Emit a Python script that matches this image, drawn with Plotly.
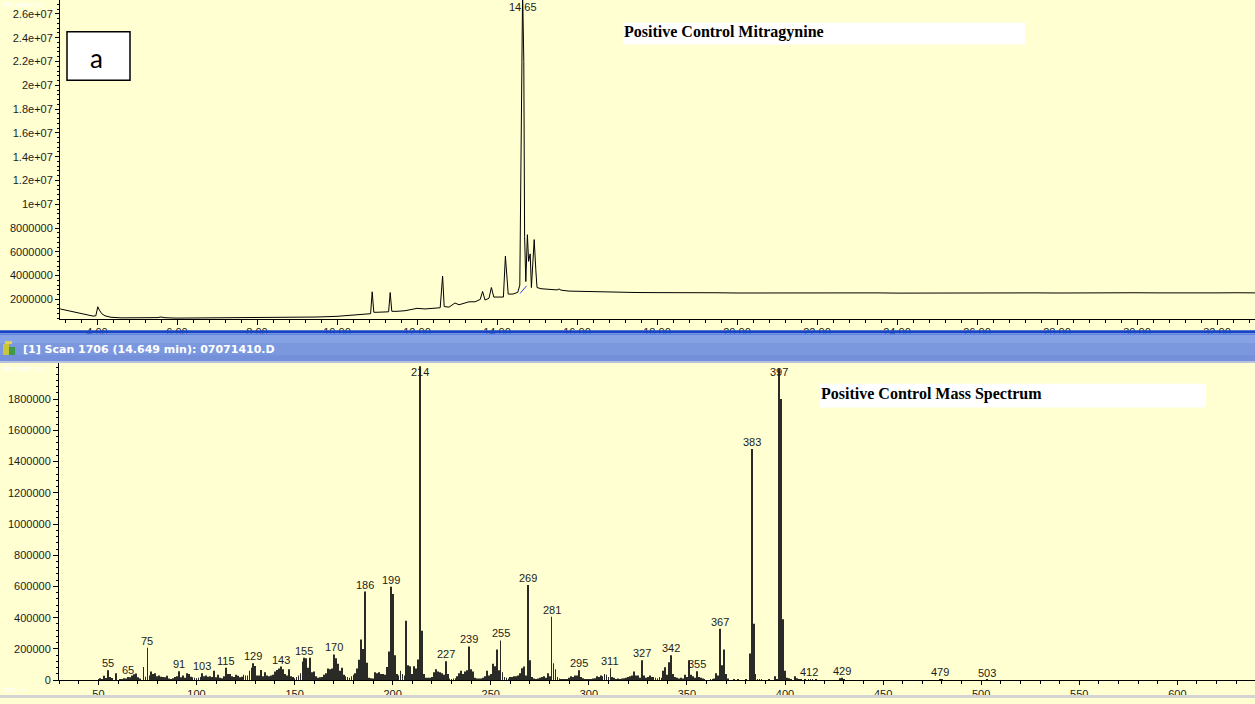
import plotly.graph_objects as go

W, H = 1255, 704

# ---------------- Total ion chromatogram (time in min, abundance) ----------------
tic_time = [
    3.08, 3.30, 3.50, 3.70, 3.90, 3.97, 4.02, 4.06, 4.12, 4.20, 4.35, 4.60, 5.00,
    5.50, 5.60, 5.70, 6.00, 6.50, 7.00, 7.50, 8.00, 8.50, 8.80, 9.00, 9.50, 10.00,
    10.30, 10.60, 10.84, 10.88, 10.92, 11.00, 11.20, 11.29, 11.33, 11.37, 11.50,
    11.70, 11.90, 12.00, 12.20, 12.40, 12.58, 12.64, 12.68, 12.80, 12.95, 13.05,
    13.20, 13.30, 13.45, 13.58, 13.64, 13.70, 13.80, 13.86, 13.92, 14.05, 14.16,
    14.21, 14.24, 14.28, 14.40, 14.52, 14.57, 14.60, 14.64, 14.67, 14.69, 14.72,
    14.76, 14.79, 14.83, 14.86, 14.90, 14.93, 14.97, 15.00, 15.10, 15.30, 15.50,
    15.55, 15.60, 15.80, 16.00, 16.30, 16.60, 16.80, 17.00, 17.50, 18.00, 18.50,
    19.00, 19.50, 20.00, 20.50, 21.00, 21.50, 22.00, 22.50, 23.00, 23.50, 24.00,
    24.50, 25.00, 25.50, 26.00, 26.50, 27.00, 27.50, 28.00, 28.50, 29.00, 29.50,
    30.00, 30.50, 31.00, 31.50, 32.00, 32.50, 32.95,
]
tic_abund = [
    1.20e6, 1.05e6, 0.92e6, 0.78e6, 0.60e6, 0.62e6, 1.38e6, 1.10e6, 0.80e6, 0.62e6,
    0.50e6, 0.45e6, 0.44e6, 0.47e6, 0.52e6, 0.46e6, 0.43e6, 0.44e6, 0.42e6, 0.43e6,
    0.43e6, 0.45e6, 0.50e6, 0.48e6, 0.52e6, 0.58e6, 0.65e6, 0.75e6, 0.80e6, 2.64e6,
    0.92e6, 0.92e6, 0.95e6, 0.96e6, 2.58e6, 1.00e6, 1.00e6, 1.05e6, 1.18e6, 1.25e6,
    1.20e6, 1.22e6, 1.30e6, 3.97e6, 1.40e6, 1.35e6, 1.70e6, 1.55e6, 1.72e6, 1.80e6,
    1.80e6, 2.00e6, 2.67e6, 1.95e6, 2.10e6, 3.00e6, 2.20e6, 2.20e6, 2.20e6, 5.64e6,
    4.30e6, 2.45e6, 2.45e6, 2.60e6, 3.20e6, 14.4e6, 28.0e6, 22.0e6, 7.30e6, 3.50e6,
    7.44e6, 5.20e6, 5.83e6, 3.00e6, 6.06e6, 7.03e6, 4.50e6, 3.00e6, 2.90e6, 2.85e6,
    2.80e6, 2.88e6, 2.78e6, 2.70e6, 2.68e6, 2.65e6, 2.64e6, 2.60e6, 2.62e6, 2.58e6,
    2.57e6, 2.58e6, 2.55e6, 2.56e6, 2.54e6, 2.55e6, 2.53e6, 2.54e6, 2.55e6, 2.53e6,
    2.54e6, 2.55e6, 2.53e6, 2.54e6, 2.55e6, 2.56e6, 2.54e6, 2.55e6, 2.56e6, 2.55e6,
    2.54e6, 2.56e6, 2.55e6, 2.57e6, 2.56e6, 2.55e6, 2.57e6, 2.56e6, 2.55e6, 2.56e6,
    2.55e6,
]

# integration baseline drawn under the main peak
base_time = [14.575, 14.74]
base_abund = [2.50e6, 3.14e6]

apex_time = 14.65
apex_label = "14.65"

tic_yticks = [2e6, 4e6, 6e6, 8e6, 10e6, 12e6, 14e6, 16e6, 18e6, 20e6, 22e6, 24e6, 26e6]
tic_yticktext = ["2000000", "4000000", "6000000", "8000000", "1e+07", "1.2e+07",
                 "1.4e+07", "1.6e+07", "1.8e+07", "2e+07", "2.2e+07", "2.4e+07", "2.6e+07"]
tic_xticks = [4, 6, 8, 10, 12, 14, 16, 18, 20, 22, 24, 26, 28, 30, 32]
tic_xticktext = ["4.00", "6.00", "8.00", "10.00", "12.00", "14.00", "16.00", "18.00",
                 "20.00", "22.00", "24.00", "26.00", "28.00", "30.00", "32.00"]

# ---------------- Mass spectrum, scan 1706 ----------------
ms_mz = [
    50, 51, 52, 53, 54, 55, 56, 57, 59, 61, 62, 63, 64, 65, 66, 67, 68, 69, 70, 71,
    73, 74, 75, 76, 77, 78, 79, 80, 81, 82, 83, 84, 85, 86, 87, 88, 89, 90, 91, 92,
    93, 94, 95, 96, 97, 98, 99, 100, 101, 102, 103, 104, 105, 106, 107, 108, 109, 110,
    111, 112, 113, 114, 115, 116, 117, 118, 119, 120, 121, 122, 123, 124, 125, 126,
    127, 128, 129, 130, 131, 132, 133, 134, 135, 136, 137, 138, 139, 140, 141, 142,
    143, 144, 145, 146, 147, 148, 149, 150, 151, 152, 153, 154, 155, 156, 157, 158,
    159, 160, 161, 162, 163, 164, 165, 166, 167, 168, 169, 170, 171, 172, 173, 174,
    175, 176, 177, 178, 179, 180, 181, 182, 183, 184, 185, 186, 187, 188, 189, 190,
    191, 192, 193, 194, 195, 196, 197, 198, 199, 200, 201, 202, 203, 204, 205, 206,
    207, 208, 209, 210, 211, 212, 213, 214, 215, 216, 217, 218, 219, 220, 221, 222,
    223, 224, 225, 226, 227, 228, 229, 230, 231, 232, 233, 234, 235, 236, 237, 238,
    239, 240, 241, 242, 243, 244, 245, 246, 247, 248, 249, 250, 251, 252, 253, 254,
    255, 256, 257, 258, 259, 260, 261, 262, 263, 264, 265, 266, 267, 268, 269, 270,
    271, 272, 273, 274, 275, 276, 277, 278, 279, 280, 281, 282, 283, 284, 285, 286,
    287, 288, 289, 290, 291, 292, 293, 294, 295, 296, 297, 298, 299, 300, 301, 302,
    303, 304, 305, 306, 307, 308, 309, 310, 311, 312, 313, 314, 315, 316, 317, 318,
    319, 320, 321, 322, 323, 324, 325, 326, 327, 328, 329, 330, 331, 332, 333, 334,
    335, 336, 337, 338, 339, 340, 341, 342, 343, 344, 345, 346, 347, 348, 349, 350,
    351, 352, 353, 354, 355, 356, 357, 358, 359, 362, 363, 364, 365, 366, 367, 368,
    369, 370, 371, 374, 376, 380, 382, 383, 384, 385, 386, 387, 388, 392, 395, 396,
    397, 398, 399, 400, 401, 402, 403, 405, 406, 407, 408, 410, 412, 413, 414, 416,
    428, 429, 430, 479, 480, 503,
]
ms_abund = [
    6000, 12000, 8000, 28000, 14000, 63000, 20000, 14000, 45000, 5000, 8000, 12000,
    10000, 20000, 18000, 30000, 38000, 42000, 18000, 10000,
    85000, 22000, 207000, 30000, 55000, 40000, 45000, 25000, 30000, 22000, 20000,
    18000, 28000, 10000, 8000, 12000, 20000, 25000, 57000, 18000,
    30000, 15000, 45000, 40000, 22000, 18000, 15000, 12000, 15000, 20000, 44000,
    25000, 30000, 22000, 25000, 20000, 60000, 18000,
    35000, 15000, 12000, 25000, 80000, 40000, 40000, 25000, 20000, 35000, 28000,
    18000, 22000, 35000, 30000, 30000,
    60000, 80000, 108000, 90000, 30000, 30000, 65000, 25000, 50000, 30000, 25000,
    30000, 35000, 55000, 65000, 75000,
    87000, 70000, 40000, 30000, 70000, 25000, 20000, 12000, 20000, 30000, 45000,
    120000, 143000, 140000, 80000, 143000,
    50000, 55000, 25000, 15000, 18000, 20000, 35000, 45000, 75000, 70000, 75000,
    165000, 140000, 105000, 60000, 80000,
    35000, 25000, 20000, 15000, 25000, 35000, 45000, 75000, 130000, 260000, 200000,
    567000, 112000, 15000, 12000, 10000,
    50000, 45000, 50000, 40000, 40000, 35000, 85000, 184000, 599000, 552000, 160000,
    40000, 30000, 60000, 40000, 30000,
    381000, 95000, 89000, 40000, 89000, 75000, 133000, 2010000, 317000, 40000, 15000,
    15000, 15000, 20000, 50000, 70000,
    55000, 50000, 45000, 35000, 121000, 40000, 10000, 8000, 10000, 12000, 25000,
    45000, 60000, 40000, 55000, 63000,
    216000, 70000, 55000, 15000, 10000, 10000, 10000, 15000, 25000, 60000, 30000,
    40000, 105000, 89000, 197000, 63000,
    254000, 50000, 20000, 15000, 10000, 20000, 20000, 25000, 25000, 30000, 45000,
    76000, 87000, 30000, 610000, 127000,
    20000, 10000, 8000, 10000, 15000, 20000, 25000, 15000, 45000, 25000, 406000,
    108000, 70000, 20000, 10000, 8000,
    8000, 5000, 8000, 15000, 25000, 20000, 30000, 30000, 63000, 20000, 12000, 8000,
    6000, 6000, 8000, 10000,
    12000, 25000, 20000, 30000, 25000, 40000, 35000, 20000, 76000, 20000, 15000,
    8000, 10000, 8000, 10000, 12000,
    15000, 20000, 25000, 30000, 55000, 30000, 30000, 15000, 127000, 30000, 15000,
    20000, 30000, 20000, 20000, 15000,
    10000, 20000, 15000, 61000, 82000, 35000, 114000, 159000, 40000, 20000, 15000,
    10000, 15000, 10000, 35000, 20000,
    127000, 35000, 25000, 15000, 57000, 20000, 15000, 10000, 5000, 5000, 5000, 10000,
    45000, 30000, 330000, 95000,
    197000, 40000, 10000, 3000, 3000, 5000, 171000, 1480000, 362000, 40000, 8000,
    8000, 5000, 5000, 25000, 8000,
    1995000, 1800000, 390000, 60000, 15000, 12000, 5000, 25000, 12000, 8000, 5000,
    3000, 6000, 5000, 5000, 3000,
    12000, 15000, 8000, 5000, 4000, 3000,
]

labelled_mz = [55, 65, 75, 91, 103, 115, 129, 143, 155, 170, 186, 199, 214, 227, 239,
               255, 269, 281, 295, 311, 327, 342, 355, 367, 383, 397, 412, 429, 479, 503]

ms_yticks = [0, 200000, 400000, 600000, 800000, 1000000, 1200000, 1400000, 1600000, 1800000]
ms_yticktext = ["0", "200000", "400000", "600000", "800000", "1000000", "1200000",
                "1400000", "1600000", "1800000"]
ms_xticks = [50, 100, 150, 200, 250, 300, 350, 400, 450, 500, 550, 600]

scan_title = "[1] Scan 1706 (14.649 min): 07071410.D"
tic_caption = "Positive Control Mitragynine"
ms_caption = "Positive Control Mass Spectrum"
panel_tag = "a"

# ---------------- helpers: pixel positions -> paper fractions ----------------
def fx(p):
    return p / W


def fy(p):
    return 1 - p / H


BG = "#FFFFD2"
TXT = "#1c1c1c"
TICKFONT = dict(family="Liberation Sans, Arial, sans-serif", size=11, color=TXT)

fig = go.Figure()

fig.add_trace(go.Scatter(
    x=tic_time, y=tic_abund, mode="lines", line=dict(color="#000000", width=1),
    xaxis="x", yaxis="y", hoverinfo="skip", showlegend=False))
fig.add_trace(go.Scatter(
    x=base_time, y=base_abund, mode="lines", line=dict(color="#2b3cff", width=1),
    xaxis="x", yaxis="y", hoverinfo="skip", showlegend=False))
fig.add_trace(go.Bar(
    x=ms_mz, y=ms_abund, width=0.42, marker=dict(color="#2a2a26", line=dict(width=0)),
    xaxis="x2", yaxis="y2", hoverinfo="skip", showlegend=False))

axis_common = dict(showline=True, linecolor="#000000", linewidth=1, ticks="outside",
                   tickcolor="#000000", tickwidth=1, showgrid=False, zeroline=False,
                   tickfont=TICKFONT, fixedrange=True)

fig.update_layout(
    width=W, height=H, margin=dict(l=0, r=0, t=0, b=0),
    paper_bgcolor=BG, plot_bgcolor=BG, showlegend=False,
    xaxis=dict(domain=[fx(60), 1], range=[3.075, 32.95], anchor="y",
               tickmode="array", tickvals=tic_xticks, ticktext=tic_xticktext, ticklen=5,
               ticklabelstandoff=-2,
               minor=dict(dtick=0.4, tick0=0, ticklen=3, ticks="outside",
                          tickcolor="#000000", showgrid=False),
               **axis_common),
    yaxis=dict(domain=[fy(322), 1], range=[0.333e6, 27.17e6], anchor="x",
               tickmode="array", tickvals=tic_yticks, ticktext=tic_yticktext, ticklen=4,
               minor=dict(dtick=4e5, tick0=0, ticklen=2, ticks="outside",
                          tickcolor="#000000", showgrid=False),
               **axis_common),
    xaxis2=dict(domain=[fx(59), 1], range=[29.9, 639.6], anchor="y2",
                tickmode="array", tickvals=ms_xticks, ticklen=4,
                minor=dict(dtick=10, tick0=0, ticklen=3, ticks="outside",
                           tickcolor="#000000", showgrid=False),
                **axis_common),
    yaxis2=dict(domain=[fy(686), fy(366)], range=[0, 2.032e6], anchor="x2",
                tickmode="array", tickvals=ms_yticks, ticktext=ms_yticktext, ticklen=5,
                minor=dict(dtick=40000, tick0=0, ticklen=2, ticks="outside",
                           tickcolor="#000000", showgrid=False),
                **axis_common),
)

shapes = []
annotations = []


def rect(x0, y0, x1, y1, fill, line_color=None, line_width=0):
    shapes.append(dict(type="rect", xref="paper", yref="paper",
                       x0=fx(x0), x1=fx(x1), y0=fy(y1), y1=fy(y0),
                       fillcolor=fill, layer="above",
                       line=dict(color=line_color or fill, width=line_width)))


# window title bar separating the two panels
rect(0, 333, W, 336, "#1844c8")
rect(0, 336, W, 338, "#5f84e2")
rect(0, 338, W, 346, "#86a3e6")
rect(0, 346, W, 358, "#7b98df")
rect(0, 358, W, 364, "#7490da")
rect(0, 364, W, 366, "#b9c2dc")
# small window icon
rect(3, 347, 9, 358, "#c9c63a")
rect(9, 350, 15, 358, "#3f9a4a")
rect(5, 344, 12, 347, "#e0d050")

# caption boxes
rect(623, 23, 1025, 45, "#FFFFFF")
rect(820, 387, 1206, 411, "#FFFFFF")
rect(67, 32, 130, 81, "#FFFFFF", "#000000", 1.5)

# bottom frame edge
rect(0, 701, W, 704, "#d4d4d4")

annotations.append(dict(text=scan_title, xref="paper", yref="paper",
                        x=fx(21), y=fy(352), xanchor="left", yanchor="middle",
                        showarrow=False,
                        font=dict(family="DejaVu Sans, Verdana, sans-serif", size=11,
                                  color="#FFFFFF", weight="bold")))
annotations.append(dict(text="<b>" + tic_caption + "</b>", xref="paper", yref="paper",
                        x=fx(622), y=fy(32), xanchor="left", yanchor="middle",
                        showarrow=False,
                        font=dict(family="Liberation Serif, Times New Roman, serif",
                                  size=16, color="#000000")))
annotations.append(dict(text="<b>" + ms_caption + "</b>", xref="paper", yref="paper",
                        x=fx(819), y=fy(397), xanchor="left", yanchor="middle",
                        showarrow=False,
                        font=dict(family="Liberation Serif, Times New Roman, serif",
                                  size=16, color="#000000")))
annotations.append(dict(text=panel_tag, xref="paper", yref="paper",
                        x=fx(96), y=fy(59), xanchor="center", yanchor="middle",
                        showarrow=False,
                        font=dict(family="Lato, Open Sans, sans-serif", size=26,
                                  color="#000000")))

# faint axis captions of the instrument software
for txt, x, y in [("Abundance", 1, 4.5), ("Abundance", 1, 372), ("m/z-->", 1, 695)]:
    annotations.append(dict(text=txt, xref="paper", yref="paper", x=fx(x), y=fy(y),
                            xanchor="left", yanchor="middle", showarrow=False,
                            font=dict(family="Liberation Sans, Arial, sans-serif",
                                      size=8, color="#FFFFFF")))

# retention time of the apex
annotations.append(dict(text=apex_label, x=apex_time, xref="x", y=1, yref="paper",
                        xanchor="center", yanchor="top", yshift=1, showarrow=False,
                        font=TICKFONT))

# m/z labels above the spectrum peaks
abund_of = dict(zip(ms_mz, ms_abund))
ms_top = 2.032e6
for m in labelled_mz:
    a = abund_of[m]
    if a > 0.95 * ms_top:
        annotations.append(dict(text=str(m), x=m, xref="x2", y=ms_top, yref="y2",
                                xanchor="center", yanchor="top", yshift=-1,
                                showarrow=False, font=TICKFONT))
    else:
        annotations.append(dict(text=str(m), x=m, xref="x2", y=a, yref="y2",
                                xanchor="center", yanchor="bottom", yshift=-1,
                                showarrow=False, font=TICKFONT))

fig.update_layout(shapes=shapes, annotations=annotations)

fig.write_html("out.html")
